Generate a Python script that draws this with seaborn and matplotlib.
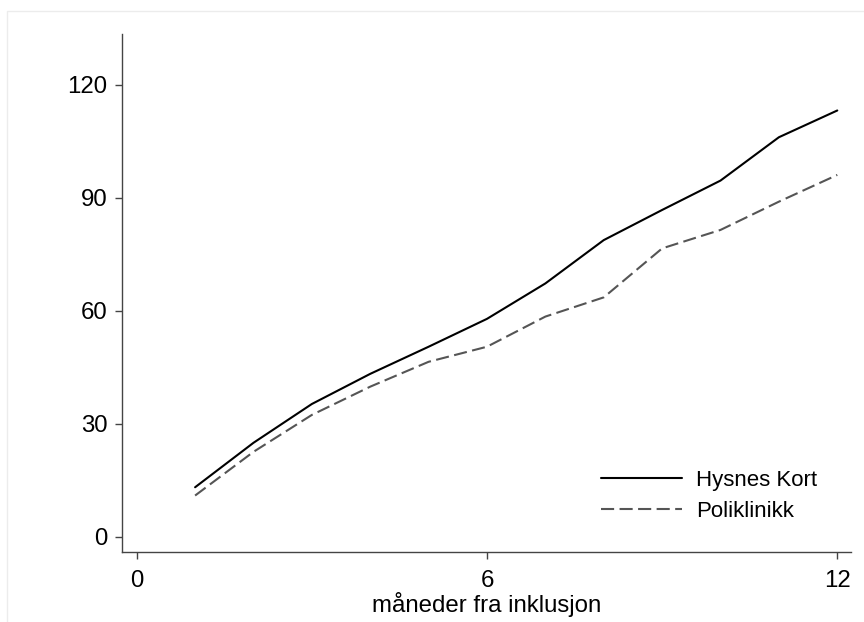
import matplotlib
matplotlib.use("Agg")
import matplotlib.pyplot as plt
import seaborn as sns
import pandas as pd
from matplotlib.patches import Rectangle
from matplotlib.lines import Line2D

months = [1, 2, 3, 4, 5, 6, 7, 8, 9, 10, 11, 12]
hysnes_kort = [13.2, 25.0, 35.3, 43.3, 50.5, 57.9, 67.3, 78.8, 86.8, 94.6, 106.1, 113.2]
poliklinikk = [11.0, 22.6, 32.4, 39.9, 46.5, 50.5, 58.5, 63.6, 76.6, 81.5, 89.0, 96.1]
series_names = ["Hysnes Kort", "Poliklinikk"]
x_ticks = [0, 6, 12]
y_ticks = [0, 30, 60, 90, 120]
x_label = "måneder fra inklusjon"

df = pd.DataFrame({
    "month": months * 2,
    "value": hysnes_kort + poliklinikk,
    "group": [series_names[0]] * len(months) + [series_names[1]] * len(months),
})

sns.set_theme(style="white")
plt.rcParams["font.family"] = ["Liberation Sans", "DejaVu Sans"]
plt.rcParams["text.color"] = "black"
plt.rcParams["axes.labelcolor"] = "black"

W, H = 864, 622
fig = plt.figure(figsize=(W / 100, H / 100), dpi=100)
fig.patch.set_facecolor("white")
fig.patches.append(Rectangle((7 / W, -0.01), 1.0, 1 - 11 / H + 0.01, transform=fig.transFigure,
                             fill=False, edgecolor="#ececec", linewidth=1.0))

ax = fig.add_axes([122 / W, 1 - 551.5 / H, (851 - 122) / W, (551.5 - 34) / H])
ax.set_facecolor("white")

dash = (6.3, 2.6)
sns.lineplot(data=df, x="month", y="value", hue="group", style="group",
             palette={series_names[0]: "#000000", series_names[1]: "#555555"},
             dashes={series_names[0]: "", series_names[1]: dash},
             linewidth=1.5, ax=ax, legend=False)

ax.set_xlim(-0.252, 12.235)
ax.set_ylim(-3.85, 133.5)
ax.set_xticks(x_ticks)
ax.set_yticks(y_ticks)
ax.set_xticklabels([str(t) for t in x_ticks], fontsize=17.3)
ax.set_yticklabels([str(t) for t in y_ticks], fontsize=17.3)
ax.set_xlabel(x_label, fontsize=17.3, labelpad=0, color="black")
ax.set_ylabel("")

for s in ["top", "right"]:
    ax.spines[s].set_visible(False)
for s in ["left", "bottom"]:
    ax.spines[s].set_color("#444444")
    ax.spines[s].set_linewidth(1.0)
ax.tick_params(axis="both", which="major", direction="out", length=5, width=1.0,
               color="#444444", labelcolor="#000000", bottom=True, left=True)
ax.tick_params(axis="y", pad=5.5)
ax.tick_params(axis="x", pad=8)
ax.grid(False)

handles = [Line2D([], [], color="#000000", linewidth=1.5),
           Line2D([], [], color="#555555", linewidth=1.5, dashes=dash)]
leg = fig.legend(handles, series_names, loc="center left",
                 bbox_to_anchor=(601 / W, 1 - 496 / H), frameon=False,
                 fontsize=16, handlelength=3.65, handletextpad=0.63,
                 labelspacing=0.45, borderpad=0, borderaxespad=0)
for t in leg.get_texts():
    t.set_color("black")

fig.savefig("out.png", dpi=100, facecolor="white")
